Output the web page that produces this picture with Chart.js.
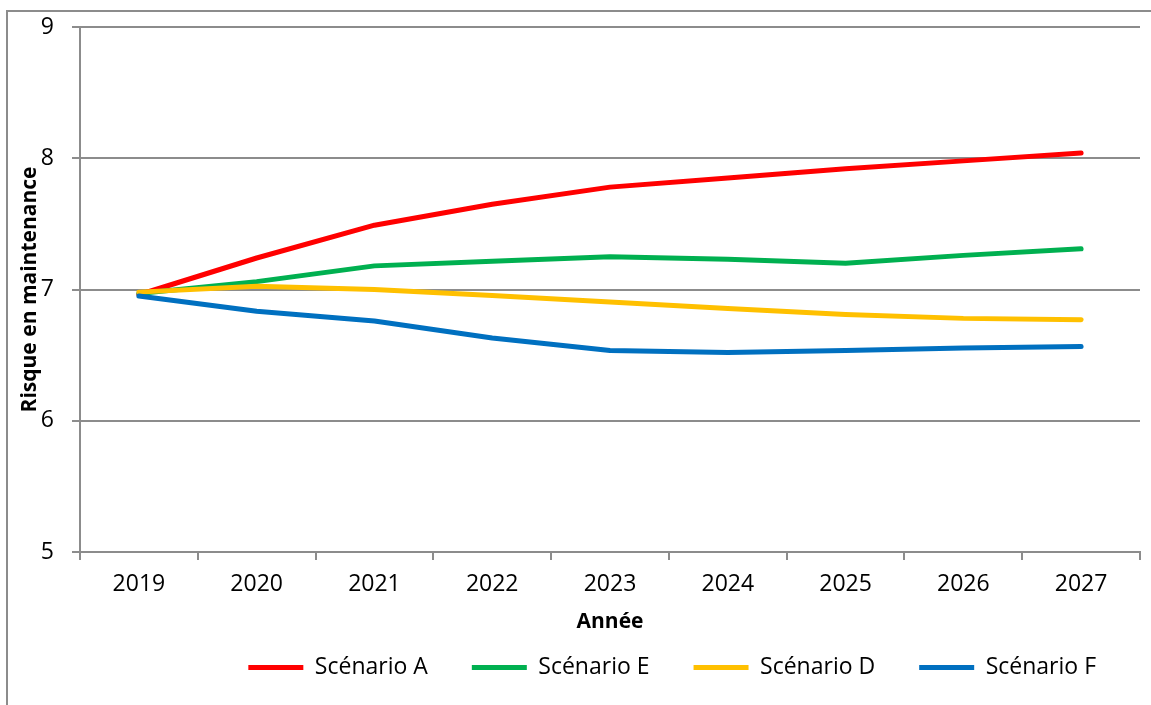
<!DOCTYPE html>
<html>
<head>
<meta charset="utf-8">
<script src="https://cdn.jsdelivr.net/npm/chart.js@4.4.1/dist/chart.umd.min.js"></script>
<style>
  html, body { margin: 0; padding: 0; background: #fff; }
  #wrap { position: relative; width: 1151px; height: 705px; overflow: hidden; }
  #frame { position: absolute; left: 6px; top: 10px; right: -4px; bottom: -4px; border: 2px solid #8c8c8c; }
  canvas { position: absolute; left: 0; top: 0; }
</style>
</head>
<body>
<div id="wrap">
  <div id="frame"></div>
  <canvas id="chart" width="1151" height="705"></canvas>
</div>
<script>
const years = ['2019', '2020', '2021', '2022', '2023', '2024', '2025', '2026', '2027']
const scenarioA = [6.96, 7.24, 7.49, 7.65, 7.78, 7.85, 7.92, 7.98, 8.04]
const scenarioE = [6.97, 7.06, 7.18, 7.215, 7.25, 7.23, 7.20, 7.26, 7.31]
const scenarioD = [6.98, 7.025, 7.00, 6.955, 6.905, 6.855, 6.81, 6.78, 6.77]
const scenarioF = [6.95, 6.835, 6.76, 6.63, 6.535, 6.52, 6.535, 6.555, 6.565]

const grey = '#8c8c8c'
const font = "'Open Sans', sans-serif"

const line = (label, data, color, order) => ({
  label: label,
  data: data,
  borderColor: color,
  backgroundColor: color,
  borderWidth: 5,
  borderCapStyle: 'round',
  borderJoinStyle: 'round',
  pointRadius: 0,
  tension: 0,
  order: order
})

new Chart(document.getElementById('chart'), {
  type: 'line',
  data: {
    labels: years,
    datasets: [
      line('Scénario A', scenarioA, '#FF0000', 4),
      line('Scénario E', scenarioE, '#00B050', 3),
      line('Scénario D', scenarioD, '#FFC000', 2),
      line('Scénario F', scenarioF, '#0070C0', 1)
    ]
  },
  options: {
    responsive: false,
    animation: false,
    layout: { padding: { top: 27, right: 11, bottom: 16, left: 0 } },
    plugins: {
      tooltip: { enabled: false },
      legend: {
        position: 'bottom',
        align: 'end',
        labels: {
          usePointStyle: true,
          pointStyle: 'line',
          pointStyleWidth: 55,
          padding: 44,
          color: '#000',
          font: { family: font, size: 23 },
          sort: (a, b) => a.datasetIndex - b.datasetIndex
        }
      }
    },
    scales: {
      x: {
        offset: true,
        afterFit: (scale) => { scale.height = 60 },
        grid: { offset: true, drawOnChartArea: false, color: grey, lineWidth: 2, tickLength: 8 },
        border: { color: grey, width: 2 },
        ticks: { color: '#000', padding: 11, font: { family: font, size: 23 } },
        title: {
          display: true,
          text: 'Année',
          color: '#000',
          padding: { top: 0, bottom: -22.6 },
          font: { family: font, size: 21, weight: 'bold' }
        }
      },
      y: {
        min: 5,
        max: 9,
        afterFit: (scale) => {
          scale.width = 80
          scale.paddingTop = 0
          scale.paddingBottom = 0
        },
        grid: { color: grey, lineWidth: 2, tickLength: 8 },
        border: { color: grey, width: 2 },
        ticks: { stepSize: 1, color: '#000', padding: 18, font: { family: font, size: 23 } },
        title: {
          display: true,
          text: 'Risque en maintenance',
          color: '#000',
          padding: { top: 17.4, bottom: 0 },
          font: { family: font, size: 21, weight: 'bold' }
        }
      }
    }
  }
})
</script>
</body>
</html>
